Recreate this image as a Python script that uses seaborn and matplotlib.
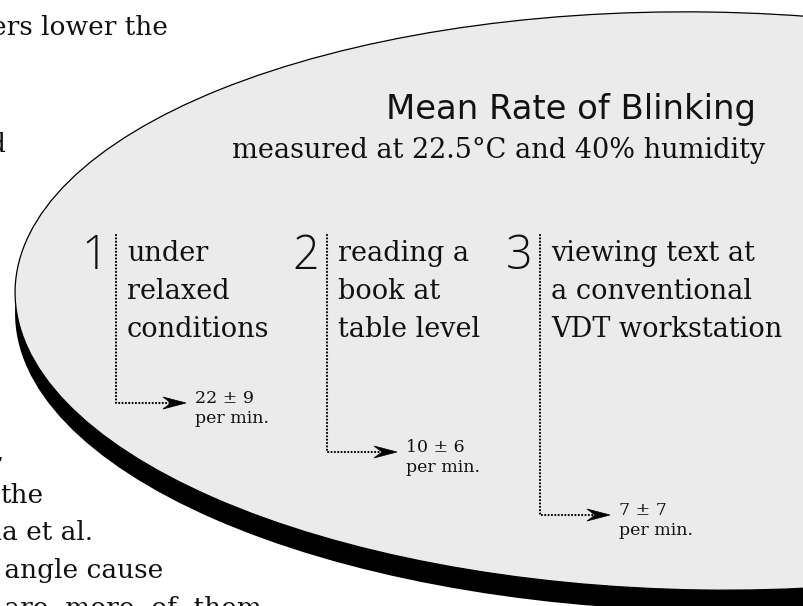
import matplotlib
matplotlib.use("Agg")
import matplotlib.pyplot as plt
import seaborn as sns
import pandas as pd
from matplotlib.patches import Ellipse, Polygon

# ---------------- data ----------------
numbers = ["1", "2", "3"]
conditions = [
    ["under", "relaxed", "conditions"],
    ["reading a", "book at", "table level"],
    ["viewing text at", "a conventional", "VDT workstation"],
]
mean_rate = [22, 10, 7]
sd_rate = [9, 6, 7]
unit = "per min."
title = "Mean Rate of Blinking"
subtitle = "measured at 22.5°C and 40% humidity"
body_lines = ["ers lower the", "d", ",", "the", "na et al.", " angle cause", " are  more  of  them"]

# ---------------- layout (pixels) ----------------
W, H = 804, 606
col_x = [116, 327, 540]          # dotted connector x
arrow_y = [403, 452, 515]        # arrow levels
line_top = 235
arrow_len = 70
body_pos = [(168, 35), (6, 152), (3, 460), (43, 503), (93, 540), (163, 578), (262, 616)]

sns.set_theme(style="white")
plt.rcParams["font.family"] = ["DejaVu Serif", "DejaVu Sans"]

fig = plt.figure(figsize=(W / 100, H / 100), dpi=100)
ax = fig.add_axes([0, 0, 1, 1])
ink = "#111111"

# body text fragments (behind the ellipse)
for txt, (bx, by) in zip(body_lines, body_pos):
    ax.text(bx, by, txt, ha="right", va="baseline", fontsize=19, color=ink,
            family="DejaVu Serif", zorder=0)

# ellipse with drop shadow
cx, cy, ew, eh, tilt = 705, 301, 1380, 578, 0.85
ax.add_patch(Ellipse((cx, cy + 21), ew, eh, angle=tilt, facecolor="black",
                     edgecolor="black", lw=0, zorder=1))
ax.add_patch(Ellipse((cx, cy), ew, eh, angle=tilt, facecolor="#ebebeb",
                     edgecolor="black", lw=0.9, zorder=2))

ax.text(756, 119, title, ha="right", va="baseline", fontsize=24.4, family="DejaVu Sans",
        color=ink, zorder=5)
ax.text(765, 158, subtitle, ha="right", va="baseline", fontsize=19.5,
        family="DejaVu Serif", color=ink, zorder=5)

for i, (num, cond, m, s) in enumerate(zip(numbers, conditions, mean_rate, sd_rate)):
    lx, ay = col_x[i], arrow_y[i]
    tip = lx + arrow_len
    df = pd.DataFrame({"x": [lx, lx, tip - 16], "y": [line_top, ay, ay]})
    sns.lineplot(data=df, x="x", y="y", sort=False, estimator=None, ax=ax, color="black",
                 lw=1.6, linestyle=(0, (0.01, 1.5)), dash_capstyle="round", zorder=4)
    ax.add_patch(Polygon([[tip, ay], [tip - 23, ay - 6], [tip - 15, ay], [tip - 23, ay + 6]],
                         closed=True, facecolor="black", edgecolor="black", lw=0.5, zorder=4))
    ax.text(lx - 8, 269, num, ha="right", va="baseline", fontsize=33.5, family="Open Sans",
            fontweight="light", color=ink, zorder=5)
    for j, line in enumerate(cond):
        ax.text(lx + 11, 261 + 38 * j, line, ha="left", va="baseline", fontsize=19.5,
                family="DejaVu Serif", color=ink, zorder=5)
    ax.text(tip + 9, ay, f"{m} ± {s}", ha="left", va="baseline", fontsize=12.5,
            family="DejaVu Serif", color=ink, zorder=5)
    ax.text(tip + 9, ay + 20, unit, ha="left", va="baseline", fontsize=12.5,
            family="DejaVu Serif", color=ink, zorder=5)

ax.set_xlim(0, W)
ax.set_ylim(H, 0)
ax.axis("off")
fig.savefig("out.png", dpi=100, facecolor="white")
